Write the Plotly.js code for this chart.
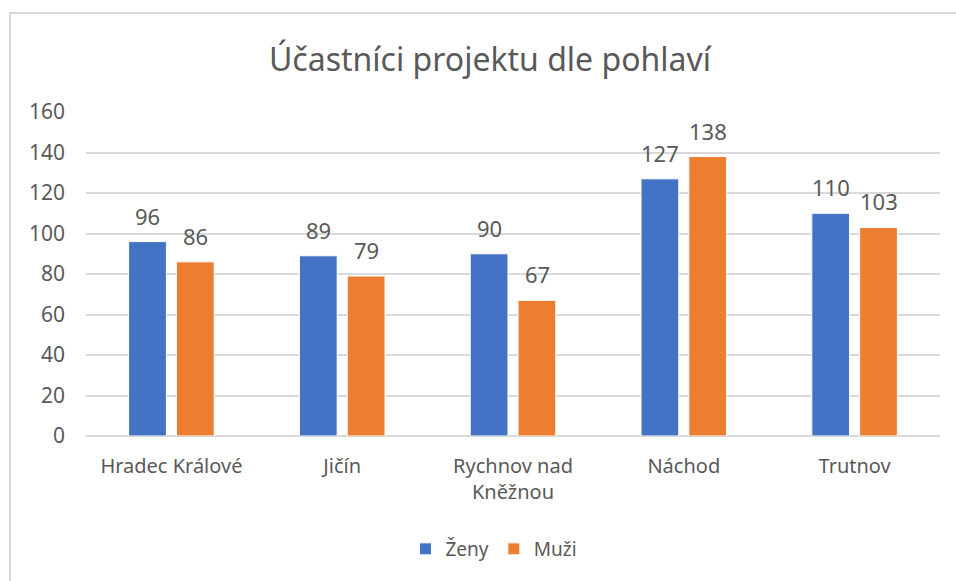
<!DOCTYPE html>
<html>
<head>
<meta charset="utf-8">
<script src="https://cdn.plot.ly/plotly-3.0.1.min.js"></script>
<style>html,body{margin:0;padding:0;background:#fff}#chart{width:956px;height:581px}</style>
</head>
<body>
<div id="chart"></div>
<script>
const categories = ["Hradec Králové", "Jičín", "Rychnov nad<br>Kněžnou", "Náchod", "Trutnov"];
const zeny = [96, 89, 90, 127, 110];
const muzi = [86, 79, 67, 138, 103];
const seriesNames = ["Ženy", "Muži"];
const yTicks = [0, 20, 40, 60, 80, 100, 120, 140, 160];

const colors = ["#4472C4", "#ED7D31"];
const txt = "#595959";
const fam = "'Noto Sans', 'Open Sans', sans-serif";

const L = 86, R = 16, T = 112, B = 145, W = 956, H = 581;
const plotW = W - L - R, plotH = H - T - B;

const series = [zeny, muzi];
const traces = series.map((vals, i) => ({
  type: "bar",
  name: seriesNames[i],
  x: categories,
  y: vals,
  marker: {color: colors[i], line: {color: "#ffffff", width: 1}},
  hoverinfo: "x+y+name"
}));

const annotations = [];
series.forEach((vals, i) => {
  vals.forEach((v, j) => {
    annotations.push({
      x: categories[j], y: v, xref: "x", yref: "y",
      text: String(v), showarrow: false,
      xshift: i === 0 ? -24 : 24, yshift: 9,
      yanchor: "bottom", xanchor: "center",
      font: {family: fam, size: 22, color: txt}
    });
  });
});

const px2x = p => (p - L) / plotW;
const px2y = p => (H - B - p) / plotH;

const layout = {
  width: W, height: H,
  margin: {l: L, r: R, t: T, b: B, pad: 0},
  paper_bgcolor: "#ffffff", plot_bgcolor: "#ffffff",
  font: {family: fam, color: txt, size: 20},
  title: {
    text: "Účastníci projektu dle pohlaví",
    font: {family: fam, size: 32, color: txt},
    x: 490 / W, xanchor: "center", xref: "container",
    y: 1 - 60 / H, yanchor: "middle", yref: "container"
  },
  barmode: "group",
  bargap: 0.44,
  bargroupgap: 0.21,
  xaxis: {
    type: "category",
    showgrid: false, zeroline: false, showline: false,
    ticks: "", ticklabelstandoff: 16,
    tickfont: {family: fam, size: 20, color: txt},
    automargin: false
  },
  yaxis: {
    range: [0, 160], tickvals: yTicks, ticktext: yTicks.map(String),
    showgrid: true, gridcolor: "#d9d9d9", gridwidth: 2,
    zeroline: true, zerolinecolor: "#d9d9d9", zerolinewidth: 2,
    showline: false, ticks: "", ticklabelstandoff: 20,
    tickfont: {family: fam, size: 21, color: txt},
    automargin: false
  },
  showlegend: true,
  legend: {
    orientation: "h", x: px2x(494), xanchor: "center",
    y: px2y(549), yanchor: "middle",
    font: {family: fam, size: 19, color: txt},
    itemwidth: 30, tracegroupgap: 0
  },
  annotations: annotations,
  shapes: [{
    type: "rect", xref: "paper", yref: "paper",
    x0: px2x(10), x1: px2x(1010), y0: px2y(640), y1: px2y(13),
    line: {color: "#d9d9d9", width: 2}, fillcolor: "rgba(0,0,0,0)", layer: "below"
  }]
};

Plotly.newPlot("chart", traces, layout, {displayModeBar: false, staticPlot: true});
</script>
</body>
</html>
